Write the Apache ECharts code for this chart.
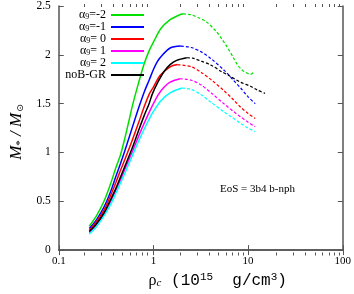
<!DOCTYPE html>
<html><head><meta charset="utf-8">
<script src="https://cdn.jsdelivr.net/npm/echarts@6/dist/echarts.min.js"></script>
<style>html,body{margin:0;padding:0;background:#fff}#c{width:354px;height:294px}</style>
</head><body><div id="c"></div>
<script>
// ---- data ----
const xMajorTicks = [0.1, 1, 10, 100];
const xMinorTicks = [0.2,0.3,0.4,0.5,0.6,0.7,0.8,0.9,2,3,4,5,6,7,8,9,20,30,40,50,60,70,80,90];
const yTicks = [0, 0.5, 1, 1.5, 2, 2.5];
const curveNames = ['α9=-2', 'α9=-1', 'α9= 0', 'α9= 1', 'α9= 2', 'noB-GR'];
const curveColors = ['#00e000', '#0000ff', '#ff0000', '#ff00ff', '#00ffff', '#000000'];

// alpha9 = -2 (stable / unstable branch)
const rhoS_m2 = [0.21,0.25,0.3,0.35,0.4,0.45,0.5,0.55,0.6,0.7,0.8,0.9,1.0,1.2,1.5,1.8,2.05];
const mS_m2   = [0.245,0.35,0.5,0.67,0.84,0.98,1.15,1.32,1.48,1.72,1.91,2.04,2.13,2.27,2.36,2.40,2.42];
const rhoU_m2 = [2.05,2.5,3,3.6,4.6,5.3,6.1,7,7.7,8.5,9.4,10.6,11.7];
const mU_m2   = [2.42,2.41,2.38,2.34,2.24,2.16,2.07,1.97,1.90,1.85,1.82,1.80,1.83];
// alpha9 = -1
const rhoS_m1 = [0.21,0.25,0.3,0.35,0.4,0.45,0.5,0.6,0.7,0.8,0.9,1.0,1.1,1.2,1.5,1.95];
const mS_m1   = [0.22,0.31,0.44,0.59,0.75,0.89,1.02,1.26,1.46,1.62,1.74,1.85,1.93,1.98,2.07,2.09];
const rhoU_m1 = [1.95,2.5,3.2,4.07,5.6,7,8.34,10,11.9];
const mU_m1   = [2.09,2.075,2.03,1.96,1.84,1.74,1.66,1.57,1.50];
// alpha9 = 0
const rhoS_0 = [0.21,0.25,0.3,0.35,0.4,0.45,0.5,0.6,0.7,0.8,0.9,1.0,1.18,1.5,1.8];
const mS_0   = [0.20,0.29,0.41,0.55,0.69,0.82,0.93,1.13,1.31,1.47,1.595,1.67,1.79,1.877,1.90];
const rhoU_0 = [1.8,2.52,3.2,4.07,5.6,7,8.34,10,11.9];
const mU_0   = [1.90,1.877,1.82,1.745,1.63,1.54,1.463,1.40,1.347];
// alpha9 = 1
const rhoS_p1 = [0.21,0.25,0.3,0.35,0.4,0.45,0.5,0.6,0.7,0.8,0.9,1.0,1.13,1.3,1.5,1.9];
const mS_p1   = [0.18,0.26,0.37,0.49,0.61,0.72,0.83,1.01,1.17,1.30,1.41,1.50,1.595,1.67,1.72,1.755];
const rhoU_p1 = [1.9,2.52,3.2,4.07,5.6,7,8.34,10,11.9];
const mU_p1   = [1.755,1.74,1.69,1.61,1.496,1.42,1.364,1.31,1.264];
// alpha9 = 2
const rhoS_p2 = [0.21,0.25,0.3,0.35,0.4,0.45,0.5,0.6,0.7,0.8,0.9,1.0,1.2,1.5,2.0];
const mS_p2   = [0.165,0.24,0.35,0.46,0.58,0.69,0.79,0.97,1.12,1.24,1.34,1.42,1.53,1.61,1.66];
const rhoU_p2 = [2.0,2.52,3.2,4.07,5.6,7,8.34,10,11.9];
const mU_p2   = [1.66,1.645,1.59,1.513,1.413,1.35,1.297,1.25,1.215];
// noB-GR
const rhoS_gr = [0.21,0.25,0.3,0.35,0.4,0.45,0.5,0.6,0.7,0.8,0.9,0.97,1.1,1.29,1.5,1.76,2.25];
const mS_gr   = [0.19,0.27,0.38,0.51,0.63,0.75,0.86,1.05,1.23,1.38,1.50,1.595,1.71,1.827,1.90,1.943,1.97];
const rhoU_gr = [2.25,2.6,3.2,4.07,5.2,6.56,8.3,10.6,12.5,15.1];
const mU_gr   = [1.97,1.966,1.935,1.894,1.83,1.777,1.72,1.678,1.64,1.605];

const stableRho = [rhoS_m2, rhoS_m1, rhoS_0, rhoS_p1, rhoS_p2, rhoS_gr];
const stableM = [mS_m2, mS_m1, mS_0, mS_p1, mS_p2, mS_gr];
const unstableRho = [rhoU_m2, rhoU_m1, rhoU_0, rhoU_p1, rhoU_p2, rhoU_gr];
const unstableM = [mU_m2, mU_m1, mU_0, mU_p1, mU_p2, mU_gr];

// ---- chart ----
const zip = (a, b) => a.map((v, i) => [v, b[i]]);
const series = [];
curveNames.forEach((name, i) => {
  series.push({
    name: name, type: 'line', xAxisIndex: 0, yAxisIndex: 0,
    data: zip(stableRho[i], stableM[i]), symbol: 'none', showSymbol: false,
    smooth: 0.3,
    lineStyle: { color: curveColors[i], width: 1.5 }, itemStyle: { color: curveColors[i] },
    z: 2 + i
  });
  series.push({
    name: name + ' unstable', type: 'line', xAxisIndex: 0, yAxisIndex: 0,
    data: zip(unstableRho[i], unstableM[i]), symbol: 'none', showSymbol: false,
    smooth: 0.3,
    lineStyle: { color: curveColors[i], width: 1.2, type: [3, 2] }, itemStyle: { color: curveColors[i] },
    z: 2 + i
  });
});

const serif = '"Liberation Serif", "Times New Roman", serif';
const mono = '"Liberation Mono", "Courier New", monospace';
const axisLine = { show: true, lineStyle: { color: '#555', width: 1.5 } };
const gridRect = { left: 55, right: 10, top: 4, bottom: 38.5 };

const chart = echarts.init(document.getElementById('c'), null, { renderer: 'canvas' });
chart.setOption({
  animation: false,
  backgroundColor: '#fff',
  grid: [Object.assign({}, gridRect), Object.assign({}, gridRect)],
  xAxis: [
    {
      type: 'log', logBase: 10, min: 0.1, max: 100, gridIndex: 0, position: 'bottom',
      axisLine: axisLine,
      axisTick: { show: true, inside: true, length: 5, customValues: xMajorTicks, lineStyle: { color: '#555', width: 1 } },
      axisLabel: { show: true, customValues: xMajorTicks, margin: 6, color: '#000', fontFamily: serif, fontSize: 11,
        formatter: v => String(v) },
      splitLine: { show: false },
      name: '{r|ρ}{c|c}{m| (10}{p|15}{m|  g/cm}{p|3}{m|)}',
      nameLocation: 'middle', nameGap: 21,
      nameTextStyle: {
        padding: [0, 0, 0, 34],
        rich: {
          r: { fontFamily: serif, fontSize: 16, color: '#000' },
          c: { fontFamily: serif, fontStyle: 'italic', fontSize: 11, color: '#000', verticalAlign: 'bottom', padding: [6, 0, 0, 0] },
          m: { fontFamily: mono, fontSize: 16, color: '#000' },
          p: { fontFamily: mono, fontSize: 11, color: '#000', verticalAlign: 'top', padding: [0, 0, 6, 0] }
        }
      }
    },
    {
      type: 'log', logBase: 10, min: 0.1, max: 100, gridIndex: 0, position: 'top',
      axisLine: axisLine,
      axisTick: { show: true, inside: true, length: 5, customValues: xMajorTicks, lineStyle: { color: '#555', width: 1 } },
      axisLabel: { show: false }, splitLine: { show: false }
    },
    {
      type: 'log', logBase: 10, min: 0.1, max: 100, gridIndex: 1, position: 'bottom',
      axisLine: { show: false },
      axisTick: { show: true, inside: true, length: 3, customValues: xMinorTicks, lineStyle: { color: '#555', width: 1 } },
      axisLabel: { show: false }, splitLine: { show: false }
    },
    {
      type: 'log', logBase: 10, min: 0.1, max: 100, gridIndex: 1, position: 'top',
      axisLine: { show: false },
      axisTick: { show: true, inside: true, length: 3, customValues: xMinorTicks, lineStyle: { color: '#555', width: 1 } },
      axisLabel: { show: false }, splitLine: { show: false }
    }
  ],
  yAxis: [
    {
      type: 'value', min: 0, max: 2.5, interval: 0.5, gridIndex: 0, position: 'left',
      axisLine: axisLine,
      axisTick: { show: true, inside: true, length: 5, lineStyle: { color: '#555', width: 1 } },
      axisLabel: { margin: 8, color: '#000', fontFamily: serif, fontSize: 11.5, customValues: yTicks },
      splitLine: { show: false },
      name: '{i|M}{s|*}{n| / }{i|M}{o|⊙}',
      nameLocation: 'middle', nameGap: 30,
      nameTextStyle: {
        padding: [0, 8, 0, 0],
        rich: {
          i: { fontFamily: serif, fontStyle: 'italic', fontSize: 17, color: '#000' },
          n: { fontFamily: serif, fontStyle: 'italic', fontSize: 17, color: '#000' },
          s: { fontFamily: serif, fontSize: 11, color: '#000', verticalAlign: 'bottom', padding: [7, 0, 0, 0] },
          o: { fontFamily: '"DejaVu Sans", sans-serif', fontSize: 9, color: '#000', verticalAlign: 'bottom', padding: [7, 0, 0, 1] }
        }
      }
    },
    {
      type: 'value', min: 0, max: 2.5, interval: 0.5, gridIndex: 0, position: 'right',
      axisLine: axisLine,
      axisTick: { show: true, inside: true, length: 5, lineStyle: { color: '#555', width: 1 } },
      axisLabel: { show: false }, splitLine: { show: false }
    },
    { type: 'value', min: 0, max: 2.5, gridIndex: 1, show: false }
  ],
  legend: {
    data: curveNames.map(n => ({ name: n, icon: 'rect' })),
    orient: 'vertical', align: 'right',
    right: 210, top: 9, padding: 0,
    itemWidth: 33, itemHeight: 2, itemGap: 0,
    selectedMode: false,
    textStyle: {
      fontFamily: serif, fontSize: 12, lineHeight: 12, color: '#000',
      rich: {
        t: { fontFamily: serif, fontSize: 12, color: '#000' },
        s: { fontFamily: serif, fontSize: 8, color: '#000', verticalAlign: 'bottom', padding: [5, 0, 0, 0] }
      }
    },
    formatter: function (name) {
      const m = name.match(/^α9(.*)$/);
      if (m) return '{t|α}{s|9}{t|' + m[1] + '}';
      return '{t|' + name + '}';
    }
  },
  graphic: [{
    type: 'text', left: 220, top: 184,
    style: { text: 'EoS = 3b4 b-nph', font: '11px ' + serif, fill: '#000' }
  }],
  series: series
});
</script></body></html>
